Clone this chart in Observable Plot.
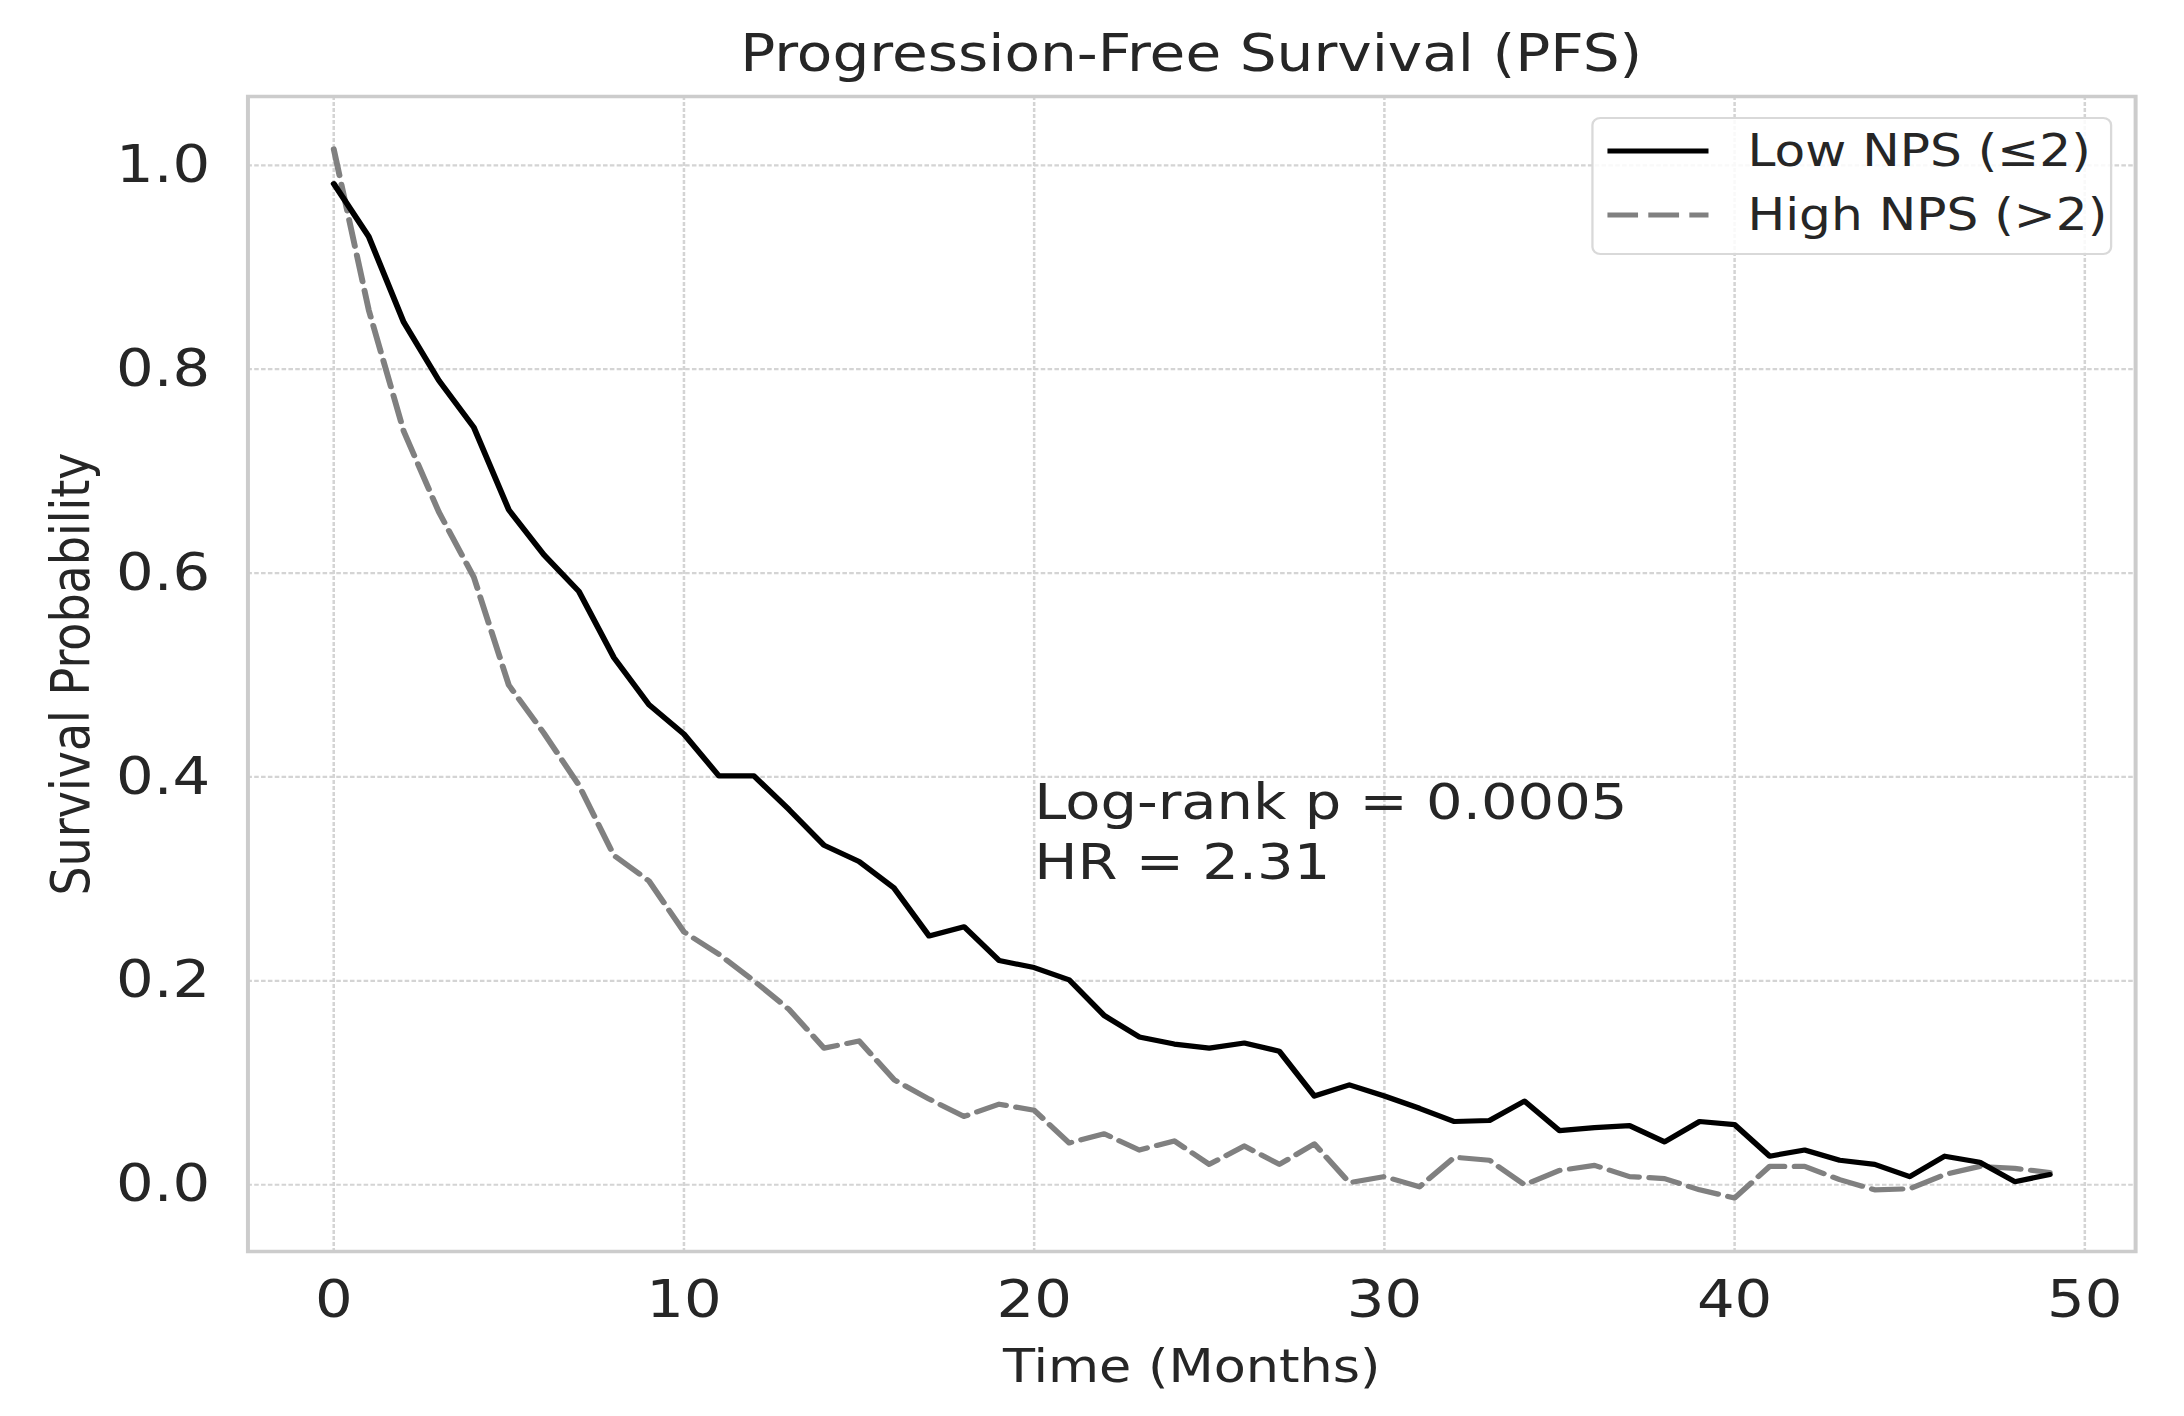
<!DOCTYPE html>
<html><head><meta charset="utf-8">
<script src="https://cdn.jsdelivr.net/npm/d3@7"></script>
<script src="https://cdn.jsdelivr.net/npm/@observablehq/plot@0.6"></script>
<style>
html,body{margin:0;padding:0;background:#fff;}
body{width:2184px;height:1416px;overflow:hidden;font-family:"DejaVu Sans",sans-serif;color:#262626;}
#fig{position:relative;width:1916px;height:1416px;transform:scaleX(1.1399);transform-origin:0 0;}
#title{position:absolute;left:217px;width:1656px;top:28px;text-align:center;font-size:51px;line-height:51px;white-space:nowrap;}
#chart{position:absolute;left:0;top:86px;}
#legend{position:absolute;left:1396px;top:117px;width:457px;height:138px;box-sizing:border-box;border:2px solid #d9d9d9;border-radius:8px;background:rgba(255,255,255,0.85);}
.row{position:absolute;left:12px;height:44px;display:flex;align-items:center;font-size:44px;line-height:44px;white-space:nowrap;}
.row svg{margin-right:34px;}
</style>
</head><body>
<div id="fig">
  <div id="title"></div>
  <div id="chart"></div>
  <div id="legend"></div>
</div>
<script>
// ---- data ----
const months = [0,1,2,3,4,5,6,7,8,9,10,11,12,13,14,15,16,17,18,19,20,21,22,23,24,25,26,27,28,29,30,31,32,33,34,35,36,37,38,39,40,41,42,43,44,45,46,47,48,49];
const lowNPS = [0.982,0.930,0.846,0.789,0.743,0.662,0.618,0.582,0.517,0.471,0.442,0.401,0.401,0.368,0.333,0.317,0.291,0.244,0.253,0.220,0.213,0.201,0.166,0.145,0.138,0.134,0.139,0.131,0.087,0.098,0.087,0.075,0.062,0.063,0.082,0.053,0.056,0.058,0.042,0.062,0.059,0.028,0.034,0.024,0.020,0.008,0.028,0.022,0.003,0.010];
const highNPS = [1.016,0.858,0.739,0.660,0.596,0.490,0.443,0.392,0.323,0.298,0.248,0.226,0.200,0.172,0.134,0.141,0.103,0.084,0.067,0.079,0.073,0.041,0.050,0.034,0.043,0.020,0.038,0.020,0.040,0.002,0.008,-0.002,0.027,0.024,0.000,0.014,0.019,0.008,0.006,-0.005,-0.013,0.018,0.018,0.005,-0.005,-0.004,0.010,0.018,0.016,0.012];
const seriesNames = ["Low NPS (\u22642)", "High NPS (>2)"];
const xTicks = [0,10,20,30,40,50];
const yTicks = [0.0,0.2,0.4,0.6,0.8,1.0];
const titleText = "Progression-Free Survival (PFS)";
const xLabel = "Time (Months)";
const yLabel = "Survival Probability";
const annotationX = [20];
const annotationY = [0.3];
const annotationText = ["Log-rank p = 0.0005\nHR = 2.31"];

// ---- build tables ----
const lowData = months.map((m, i) => ({t: m, s: lowNPS[i]}));
const highData = months.map((m, i) => ({t: m, s: highNPS[i]}));
const annot = annotationX.map((x, i) => ({t: x, s: annotationY[i], label: annotationText[i]}));

const styles = {
  low: {stroke: "#000000", strokeWidth: 5.2, dash: null},
  high: {stroke: "#808080", strokeWidth: 5.2, dash: "27,9"}
};

document.getElementById("title").textContent = titleText;

const chart = Plot.plot({
  width: 1916, height: 1330,
  marginLeft: 217, marginRight: 43, marginTop: 10, marginBottom: 165,
  style: {fontFamily: "DejaVu Sans", color: "#262626", background: "white", overflow: "visible"},
  x: {domain: [-2.45, 51.45]},
  y: {domain: [-0.0655, 1.0675]},
  marks: [
    Plot.gridX(xTicks, {stroke: "#d4d4d4", strokeOpacity: 1, strokeWidth: 2.2, strokeDasharray: "4,2"}),
    Plot.gridY(yTicks, {stroke: "#d4d4d4", strokeOpacity: 1, strokeWidth: 2.2, strokeDasharray: "4,2"}),
    Plot.frame({stroke: "#cccccc", strokeWidth: 3.5}),
    Plot.axisX(xTicks, {tickSize: 0, tickPadding: 29, fontSize: 52, label: null, tickFormat: d3.format("d")}),
    Plot.axisY(yTicks, {tickSize: 0, tickPadding: 33, fontSize: 52, label: null, tickFormat: d3.format(".1f")}),
    Plot.line(highData, {x: "t", y: "s", stroke: styles.high.stroke, strokeWidth: styles.high.strokeWidth, strokeDasharray: styles.high.dash, strokeLinejoin: "round"}),
    Plot.line(lowData, {x: "t", y: "s", stroke: styles.low.stroke, strokeWidth: styles.low.strokeWidth, strokeLinejoin: "round"}),
    Plot.text(annot, {x: "t", y: "s", text: "label", textAnchor: "start", lineAnchor: "bottom", lineHeight: 1.18, fontSize: 50.5, fill: "#262626"}),
    Plot.text([xLabel], {frameAnchor: "bottom", textAnchor: "middle", dy: 116, lineAnchor: "middle", fontSize: 46, fill: "#262626"}),
    Plot.text([yLabel], {frameAnchor: "left", textAnchor: "middle", rotate: -90, dx: -154, lineAnchor: "middle", fontSize: 46, fill: "#262626"})
  ]
});
document.getElementById("chart").appendChild(chart);

// ---- legend ----
const legend = document.getElementById("legend");
[["low", 10], ["high", 74]].forEach(([key, top], i) => {
  const row = document.createElement("div");
  row.className = "row";
  row.style.top = top + "px";
  const st = styles[key];
  row.innerHTML = `<svg width="89" height="12"><line x1="0" x2="89" y1="6" y2="6" stroke="${st.stroke}" stroke-width="${st.strokeWidth}" ${st.dash ? `stroke-dasharray="${st.dash}"` : ""}/></svg>`;
  const span = document.createElement("span");
  span.textContent = seriesNames[i];
  row.appendChild(span);
  legend.appendChild(row);
});
</script>
</body></html>
